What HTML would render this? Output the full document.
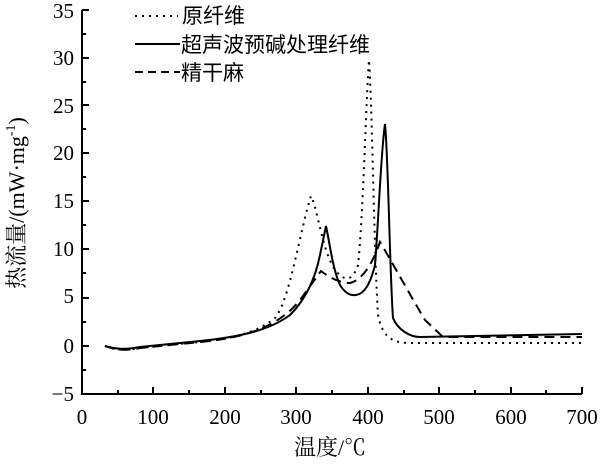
<!DOCTYPE html>
<html><head><meta charset="utf-8"><style>body{margin:0;background:#fff}</style></head><body>
<svg width="600" height="461" xmlns="http://www.w3.org/2000/svg" font-family="'Liberation Serif','Noto Serif CJK SC',serif">
<g stroke="#000" stroke-width="2" fill="none">
<path d="M82,10 L82,394 L582,394"/>
<path d="M82,10h7M82,34h4M82,58h7M82,82h4M82,105h7M82,129h4M82,153h7M82,177h4M82,201h7M82,225h4M82,249h7M82,273h4M82,298h7M82,322h4M82,346h7M82,370h4"/>
<path d="M118,394v-4M153,394v-7M189,394v-4M225,394v-7M261,394v-4M296,394v-7M332,394v-4M368,394v-7M404,394v-4M439,394v-7M475,394v-4M511,394v-7M546,394v-4M582,394v-7"/>
</g>
<g font-size="21" text-anchor="end">
<text x="74" y="18">35</text><text x="74" y="65">30</text><text x="74" y="113">25</text><text x="74" y="160">20</text><text x="74" y="208">15</text><text x="74" y="256">10</text><text x="74" y="303">5</text><text x="74" y="353">0</text><text x="74" y="401">−5</text>
</g>
<g font-size="21" text-anchor="middle">
<text x="82" y="424">0</text><text x="153" y="424">100</text><text x="225" y="424">200</text><text x="296" y="424">300</text><text x="368" y="424">400</text><text x="439" y="424">500</text><text x="511" y="424">600</text><text x="582" y="424">700</text>
<text x="330" y="455" font-size="22">温度/℃</text>
<text transform="translate(24,203) rotate(-90)" font-size="22">热流量/(mW·mg<tspan font-size="14" dy="-9">-1</tspan><tspan dy="9">)</tspan></text>
</g>
<g fill="none" stroke="#000" stroke-width="2">
<path stroke-dasharray="2,5" d="M105,346 C115,350 125,351 140,348 L200,342 C240,338 260,330 275,318 C290,300 300,230 311,196 C318,210 322,250 335,270 C345,282 352,282 358,265 C363,220 366,100 369,60 C372,100 374,250 378,315 C382,335 390,342 407,343 L582,343"/>
<path d="M105,346 C115,349 125,350 140,347 L200,341 C240,337 270,330 290,315 C305,300 315,280 320,255 L326,226 C330,245 333,270 340,285 C345,293 350,296 356,295 C364,294 370,285 375,265 C378,230 381,150 385,124 C388,150 390,280 393,318 C398,330 410,337 420,337 L582,334"/>
<path stroke-dasharray="10,6" d="M105,346 C115,350 125,351 140,348 L210,341 C250,336 280,325 300,300 L321,271 C330,278 340,283 350,283 C362,280 372,265 380,242 C392,262 410,295 425,320 L443,337 L582,337"/>
<path stroke-dasharray="2,5" d="M135,16 H178"/>
<path d="M135,44 H180"/>
<path stroke-dasharray="8,5" d="M135,72 H180"/>
</g>
<g font-size="21" font-family="'Liberation Sans','Noto Sans CJK SC',sans-serif">
<text x="182" y="23">原纤维</text>
<text x="181" y="52">超声波预碱处理纤维</text>
<text x="181" y="80">精干麻</text>
</g>
</svg>
</body></html>
